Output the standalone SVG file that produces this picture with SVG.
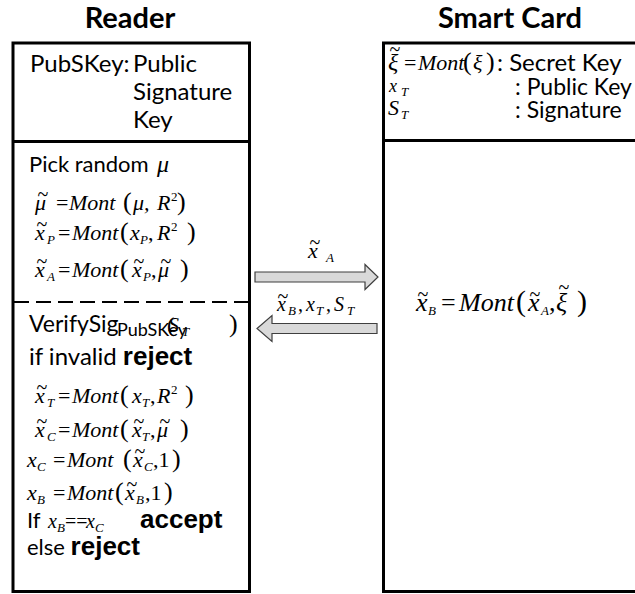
<svg xmlns="http://www.w3.org/2000/svg" width="635" height="594" viewBox="0 0 635 594">
  <style>
    .h { font: bold 29px Lato, "Open Sans", sans-serif; fill: #000; text-anchor: middle; }
    .t { font: 24px Lato, "Open Sans", sans-serif; fill: #000; }
    .sub { font: 18px Lato, "Open Sans", sans-serif; fill: #000; }
    .b { font: bold 26px "Liberation Sans", Arial, sans-serif; fill: #000; }
    .m { font: italic 22px "Liberation Serif", "Times New Roman", serif; fill: #000; }
    .u { font-style: normal; }
    .p { font-style: normal; font-size: 26px; }
    .s { font-size: 13px; }
    .tl { font: 20px "Liberation Serif", "Times New Roman", serif; fill: #000; text-anchor: middle; }
    .box { fill: #fff; stroke: #000; stroke-width: 3; }
    .rule { stroke: #000; stroke-width: 3; }
    .dash { stroke: #000; stroke-width: 2; stroke-dasharray: 15 7; }
    .arrow { fill: #d9d9d9; stroke: #3f3f3f; stroke-width: 1.2; stroke-linejoin: miter; }
  </style>

  <rect width="635" height="594" fill="#fff"/>

  <!-- column headings -->
  <text class="h" x="130" y="28">Reader</text>
  <text class="h" x="510" y="28">Smart Card</text>

  <!-- Reader side -->
  <g id="reader">
    <rect class="box" x="13" y="43" width="236.5" height="548.5"/>
    <line class="rule" x1="13" y1="141.5" x2="249.5" y2="141.5"/>
    <line class="dash" x1="14" y1="302" x2="249" y2="302"/>

    <text class="t" x="30" y="72">PubSKey:<tspan x="133">Public</tspan></text>
    <text class="t" x="133" y="100">Signature</text>
    <text class="t" x="133" y="128">Key</text>

    <text class="t" x="29" y="172" style="font-size:22px">Pick random</text>
    <text class="m" x="157" y="172" style="font-size:24px">μ</text>

    <!-- μ~ = Mont(μ, R^2) -->
    <text class="m" y="210"><tspan x="35">μ</tspan><tspan class="u" x="56">=</tspan><tspan x="69">Mont</tspan><tspan class="p" x="123">(</tspan><tspan x="133">μ,</tspan><tspan x="157">R</tspan><tspan class="u s" x="171" dy="-9">2</tspan><tspan class="p" x="177" dy="9">)</tspan></text>
    <text class="tl" x="43" y="201">~</text>

    <!-- x~P = Mont(xP, R^2) -->
    <text class="m" y="240"><tspan x="35">x</tspan><tspan class="s" x="47" dy="4">P</tspan><tspan class="u" x="58" dy="-4">=</tspan><tspan x="72">Mont</tspan><tspan class="p" x="120">(</tspan><tspan x="130">x</tspan><tspan class="s" x="140" dy="4">P</tspan><tspan class="u" x="148" dy="-4">,</tspan><tspan x="157">R</tspan><tspan class="u s" x="171" dy="-9">2</tspan><tspan class="p" x="187" dy="9">)</tspan></text>
    <text class="tl" x="42" y="231">~</text>

    <!-- x~A = Mont(x~P, μ~) -->
    <text class="m" y="277"><tspan x="35">x</tspan><tspan class="s" x="47" dy="4">A</tspan><tspan class="u" x="58" dy="-4">=</tspan><tspan x="72">Mont</tspan><tspan class="p" x="120">(</tspan><tspan x="132">x</tspan><tspan class="s" x="143" dy="4">P</tspan><tspan class="u" x="151" dy="-4">,</tspan><tspan x="158">μ</tspan><tspan class="p" x="180">)</tspan></text>
    <text class="tl" x="42" y="268">~</text>
    <text class="tl" x="139" y="268">~</text>
    <text class="tl" x="166" y="268">~</text>

    <!-- VerifySig_PubSKey(S_T) -->
    <text class="t" x="29" y="332" style="font-size:23px">VerifySig</text>
    <text class="sub" x="117" y="336">PubSKey</text>
    <text class="m" y="332"><tspan class="u" x="167">(</tspan><tspan x="168">S</tspan><tspan class="s" x="182" dy="4">T</tspan><tspan class="p" x="229" dy="-4">)</tspan></text>

    <text class="t" x="29" y="365">if invalid <tspan class="b">reject</tspan></text>

    <!-- x~T = Mont(xT, R^2) -->
    <text class="m" y="403"><tspan x="35">x</tspan><tspan class="s" x="47" dy="4">T</tspan><tspan class="u" x="58" dy="-4">=</tspan><tspan x="72">Mont</tspan><tspan class="p" x="120">(</tspan><tspan x="132">x</tspan><tspan class="s" x="142" dy="4">T</tspan><tspan class="u" x="150" dy="-4">,</tspan><tspan x="157">R</tspan><tspan class="u s" x="171" dy="-9">2</tspan><tspan class="p" x="185" dy="9">)</tspan></text>
    <text class="tl" x="42" y="394">~</text>

    <!-- x~C = Mont(x~T, μ~) -->
    <text class="m" y="437"><tspan x="35">x</tspan><tspan class="s" x="47" dy="4">C</tspan><tspan class="u" x="58" dy="-4">=</tspan><tspan x="72">Mont</tspan><tspan class="p" x="120">(</tspan><tspan x="132">x</tspan><tspan class="s" x="142" dy="4">T</tspan><tspan class="u" x="150" dy="-4">,</tspan><tspan x="157">μ</tspan><tspan class="p" x="180">)</tspan></text>
    <text class="tl" x="42" y="428">~</text>
    <text class="tl" x="139" y="428">~</text>
    <text class="tl" x="165" y="428">~</text>

    <!-- xC = Mont(x~C, 1) -->
    <text class="m" y="467"><tspan x="27">x</tspan><tspan class="s" x="37" dy="4">C</tspan><tspan class="u" x="53" dy="-4">=</tspan><tspan x="67">Mont</tspan><tspan class="p" x="123">(</tspan><tspan x="133">x</tspan><tspan class="s" x="144" dy="4">C</tspan><tspan class="u" x="153" dy="-4">,1</tspan><tspan class="p" x="172">)</tspan></text>
    <text class="tl" x="140" y="458">~</text>

    <!-- xB = Mont(x~B, 1) -->
    <text class="m" y="500"><tspan x="27">x</tspan><tspan class="s" x="37" dy="4">B</tspan><tspan class="u" x="53" dy="-4">=</tspan><tspan x="67">Mont</tspan><tspan class="p" x="115">(</tspan><tspan x="125">x</tspan><tspan class="s" x="136" dy="4">B</tspan><tspan class="u" x="145" dy="-4">,1</tspan><tspan class="p" x="164">)</tspan></text>
    <text class="tl" x="132" y="491">~</text>

    <text class="t" x="27" y="528" style="font-size:22px">If</text>
    <text class="m" y="528" style="font-size:20px"><tspan x="48">x</tspan><tspan class="s" x="57" dy="4">B</tspan><tspan class="u" x="65" dy="-4">==</tspan><tspan x="86">x</tspan><tspan class="s" x="95" dy="4">C</tspan></text>
    <text class="b" x="140" y="528">accept</text>

    <text class="t" x="27" y="555" style="font-size:22px">else <tspan class="b">reject</tspan></text>
  </g>

  <!-- Smart card side -->
  <g id="smart-card">
    <rect class="box" x="383.5" y="43" width="280" height="548.5"/>
    <line class="rule" x1="383.5" y1="140.5" x2="640" y2="140.5"/>

    <!-- ξ~ = Mont(ξ): Secret Key -->
    <text class="m" y="70"><tspan x="388" style="font-size:24px">ξ</tspan><tspan class="u" x="404">=</tspan><tspan x="418">Mont</tspan><tspan class="p" x="463">(</tspan><tspan x="473">ξ</tspan><tspan class="p" x="486">)</tspan></text>
    <text class="tl" x="395" y="56">~</text>
    <text class="t" x="497" y="71">: Secret Key</text>

    <text class="m" y="92"><tspan x="389" style="font-size:18px">x</tspan><tspan class="s" x="401" dy="4">T</tspan></text>
    <text class="t" x="515" y="95" style="font-size:23px">: Public Key</text>

    <text class="m" y="115"><tspan x="388">S</tspan><tspan class="s" x="401" dy="4">T</tspan></text>
    <text class="t" x="515" y="118" style="font-size:23px">: Signature</text>

    <!-- x~B = Mont(x~A, ξ~) -->
    <text class="m" y="311" style="font-size:26px"><tspan x="416">x</tspan><tspan class="s" x="428" dy="4">B</tspan><tspan class="u" x="441" dy="-4">=</tspan><tspan x="459">Mont</tspan><tspan class="p" x="516" style="font-size:30px">(</tspan><tspan x="528">x</tspan><tspan class="s" x="541" dy="4">A</tspan><tspan class="u" x="549" dy="-4">,</tspan><tspan x="556">ξ</tspan><tspan class="p" x="577" style="font-size:30px">)</tspan></text>
    <text class="tl" x="423" y="301">~</text>
    <text class="tl" x="535" y="301">~</text>
    <text class="tl" x="564" y="294">~</text>
  </g>

  <!-- message arrows between the two parties -->
  <g id="connectors">
    <polygon class="arrow" points="255,272 365,272 365,264.5 378,277 365,289.5 365,282 255,282"/>
    <text class="m" y="258"><tspan x="308">x</tspan><tspan class="s" x="326" dy="4">A</tspan></text>
    <text class="tl" x="315" y="249">~</text>

    <polygon class="arrow" points="377,323.5 272,323.5 272,315.5 257,328.5 272,341.5 272,333.5 377,333.5"/>
    <text class="m" y="311" style="font-size:20px"><tspan x="277">x</tspan><tspan class="s" x="288" dy="4">B</tspan><tspan class="u" x="298" dy="-4">,</tspan><tspan x="306">x</tspan><tspan class="s" x="316" dy="4">T</tspan><tspan class="u" x="326" dy="-4">,</tspan><tspan x="334">S</tspan><tspan class="s" x="347" dy="4">T</tspan></text>
    <text class="tl" x="283" y="303">~</text>
  </g>
</svg>
